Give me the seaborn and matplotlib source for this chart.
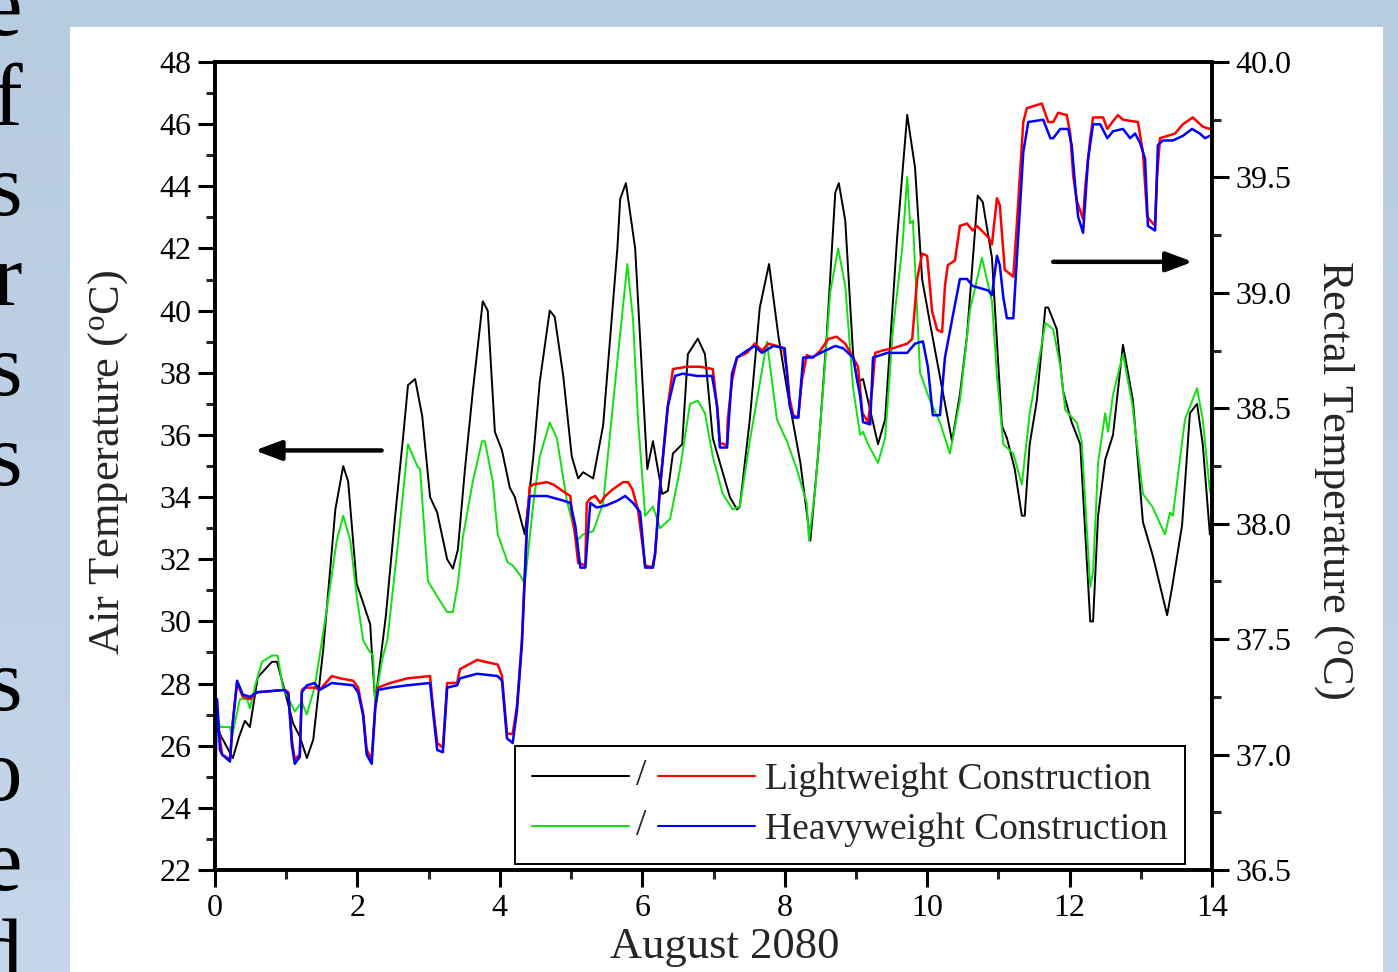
import numpy as np
import matplotlib
matplotlib.use("Agg")
import matplotlib.pyplot as plt
import seaborn as sns
from matplotlib.lines import Line2D
from matplotlib.text import Text
from matplotlib.patches import Rectangle
from matplotlib.legend_handler import HandlerBase
from matplotlib.ticker import MultipleLocator

# ---- data (days into August 2080) ----
# indoor air temperature, lightweight construction (black, left axis)
light_air_day = [0.00, 0.04, 0.25, 0.34, 0.42, 0.49, 0.60, 0.80, 0.87, 0.94, 1.10, 1.19, 1.29, 1.38,
                 1.52, 1.69, 1.80, 1.87, 1.99, 2.08, 2.18, 2.20, 2.25, 2.40, 2.53, 2.64, 2.71, 2.81,
                 2.91, 3.02, 3.12, 3.26, 3.34, 3.41, 3.51, 3.62, 3.76, 3.83, 3.93, 4.03, 4.14, 4.21,
                 4.35, 4.47, 4.56, 4.70, 4.77, 4.89, 5.01, 5.10, 5.17, 5.31, 5.45, 5.65, 5.69, 5.77,
                 5.90, 6.07, 6.15, 6.28, 6.36, 6.43, 6.56, 6.64, 6.78, 6.88, 6.99, 7.09, 7.23, 7.33,
                 7.37, 7.51, 7.65, 7.78, 7.91, 8.03, 8.22, 8.36, 8.47, 8.59, 8.71, 8.76, 8.85, 8.96,
                 9.02, 9.10, 9.20, 9.31, 9.41, 9.58, 9.72, 9.83, 9.93, 10.04, 10.21, 10.35, 10.46,
                 10.56, 10.71, 10.78, 10.91, 11.05, 11.12, 11.23, 11.33, 11.37, 11.44, 11.54, 11.66,
                 11.70, 11.82, 11.91, 12.03, 12.15, 12.29, 12.33, 12.40, 12.50, 12.61, 12.75, 12.89,
                 13.03, 13.17, 13.37, 13.44, 13.58, 13.69, 13.79, 13.87, 13.97, 14.00]
light_air_temp = [26.8, 26.5, 25.6, 26.3, 26.8, 26.6, 28.2, 28.7, 28.7, 28.1, 26.7, 26.3, 25.6, 26.2,
                  29.1, 33.6, 35.0, 34.5, 31.2, 30.6, 29.9, 29.1, 27.4, 30.2, 33.4, 35.9, 37.6, 37.8,
                  36.6, 34.0, 33.5, 32.0, 31.7, 32.3, 34.9, 37.4, 40.3, 40.0, 36.1, 35.5, 34.3, 34.0,
                  32.8, 35.3, 37.7, 40.0, 39.8, 37.9, 35.3, 34.6, 34.8, 34.6, 36.3, 42.0, 43.6, 44.1,
                  42.0, 34.9, 35.8, 34.1, 34.2, 35.4, 35.7, 38.6, 39.1, 38.6, 35.9, 35.1, 34.0, 33.6,
                  33.7, 36.5, 40.1, 41.5, 39.2, 37.5, 35.1, 32.6, 35.4, 39.2, 43.8, 44.1, 42.9, 38.6,
                  37.7, 37.8, 36.8, 35.7, 36.5, 42.4, 46.3, 44.6, 41.0, 39.6, 37.5, 35.8, 37.3,
                  39.2, 43.7, 43.5, 41.7, 36.3, 35.9, 34.9, 33.4, 33.4, 35.7, 37.1, 40.1,
                  40.1, 39.4, 37.4, 36.4, 35.7, 30.0, 30.0, 33.4, 35.2, 36.0, 38.9, 37.1,
                  33.2, 32.1, 30.2, 31.1, 33.1, 36.7, 37.0, 35.7, 32.8, 32.8]

# indoor air temperature, heavyweight construction (green, left axis)
heavy_air_day = [0.04, 0.07, 0.21, 0.24, 0.35, 0.45, 0.49, 0.56, 0.66, 0.80, 0.88, 0.95, 1.12, 1.22,
                 1.29, 1.40, 1.47, 1.57, 1.71, 1.80, 1.90, 1.99, 2.08, 2.15, 2.22, 2.25, 2.29, 2.35,
                 2.42, 2.56, 2.71, 2.84, 2.88, 2.99, 3.12, 3.26, 3.34, 3.41, 3.48, 3.62, 3.75, 3.79,
                 3.90, 3.97, 4.11, 4.18, 4.28, 4.35, 4.47, 4.56, 4.70, 4.80, 4.94, 5.08, 5.17, 5.31,
                 5.45, 5.62, 5.79, 5.87, 5.94, 6.04, 6.15, 6.25, 6.39, 6.53, 6.67, 6.78, 6.88, 6.99,
                 7.13, 7.27, 7.37, 7.51, 7.63, 7.75, 7.89, 8.03, 8.17, 8.31, 8.34, 8.43, 8.54, 8.64,
                 8.75, 8.85, 8.96, 9.06, 9.10, 9.17, 9.31, 9.41, 9.52, 9.65, 9.72, 9.76, 9.80, 9.90,
                 10.04, 10.18, 10.32, 10.46, 10.60, 10.77, 10.91, 10.98, 11.07, 11.21, 11.33, 11.44,
                 11.54, 11.66, 11.77, 11.87, 11.94, 12.10, 12.17, 12.29, 12.33, 12.40, 12.50, 12.54,
                 12.61, 12.75, 12.88, 13.03, 13.16, 13.34, 13.41, 13.45, 13.62, 13.79, 13.87, 13.97,
                 14.00]
heavy_air_temp = [26.9, 26.6, 26.6, 26.3, 27.5, 27.5, 27.2, 27.9, 28.7, 28.9, 28.9, 27.9, 27.1, 27.4,
                  27.0, 27.9, 28.9, 30.4, 32.6, 33.4, 32.6, 30.8, 29.4, 29.1, 28.9, 27.3, 28.0, 28.8,
                  29.4, 32.3, 35.7, 35.0, 34.9, 31.3, 30.8, 30.3, 30.3, 31.2, 32.7, 34.5, 35.8, 35.8,
                  34.5, 32.8, 31.9, 31.8, 31.5, 31.2, 33.8, 35.3, 36.4, 35.9, 33.9, 32.6, 32.8, 32.9,
                  33.8, 37.7, 41.5, 39.7, 36.5, 33.4, 33.7, 33.0, 33.3, 34.9, 37.0, 37.1, 36.7, 35.3,
                  34.1, 33.6, 33.7, 35.8, 37.4, 39.0, 36.5, 35.8, 34.9, 33.8, 32.6, 34.3, 37.5, 40.6,
                  42.0, 40.8, 37.5, 36.0, 36.1, 35.7, 35.1, 35.9, 39.4, 42.0, 44.3, 42.8, 42.9, 38.0,
                  37.1, 36.4, 35.4, 37.1, 40.0, 41.7, 40.3, 37.9, 35.7, 35.4, 34.4, 36.7,
                  38.0, 39.6, 39.4, 38.2, 36.8, 36.4, 35.8, 31.1, 31.6, 35.1, 36.7, 36.1,
                  37.3, 38.6, 37.0, 34.1, 33.7, 32.8, 33.5, 33.4, 36.5, 37.5, 36.5, 34.2,
                  34.0]

# rectal temperature, lightweight construction (red, right axis)
light_rectal_day = [0.00, 0.03, 0.10, 0.21, 0.25, 0.31, 0.39, 0.49, 0.59, 0.98, 1.03, 1.08, 1.12, 1.19,
                    1.22, 1.26, 1.40, 1.47, 1.64, 1.76, 1.94, 2.01, 2.08, 2.13, 2.20, 2.25, 2.29, 2.46,
                    2.70, 3.02, 3.06, 3.12, 3.20, 3.26, 3.40, 3.44, 3.68, 3.82, 3.97, 4.03, 4.10, 4.18,
                    4.24, 4.31, 4.38, 4.42, 4.47, 4.66, 4.75, 4.89, 4.99, 5.01, 5.06, 5.10, 5.20, 5.22,
                    5.27, 5.34, 5.41, 5.48, 5.59, 5.73, 5.80, 5.86, 5.94, 6.04, 6.14, 6.18, 6.25, 6.35,
                    6.43, 6.63, 6.81, 6.99, 7.02, 7.06, 7.09, 7.19, 7.20, 7.26, 7.33, 7.47, 7.58, 7.68,
                    7.77, 7.89, 7.98, 8.03, 8.07, 8.12, 8.19, 8.24, 8.31, 8.40, 8.50, 8.61, 8.73, 8.85,
                    8.96, 9.03, 9.09, 9.17, 9.23, 9.27, 9.37, 9.52, 9.62, 9.72, 9.79, 9.86, 9.93, 10.00,
                    10.07, 10.14, 10.21, 10.25, 10.29, 10.39, 10.46, 10.56, 10.64, 10.70, 10.86, 10.91,
                    10.98, 11.02, 11.09, 11.21, 11.26, 11.35, 11.40, 11.61, 11.70, 11.77, 11.84, 11.96,
                    12.01, 12.05, 12.10, 12.19, 12.22, 12.29, 12.33, 12.47, 12.53, 12.60, 12.68, 12.75,
                    12.96, 13.03, 13.09, 13.20, 13.23, 13.27, 13.48, 13.59, 13.73, 13.87, 13.97, 14.00]
light_rectal_temp = [37.10, 37.16, 37.00, 36.98, 37.14, 37.31, 37.25, 37.24, 37.27, 37.28, 37.27, 37.06,
                     36.98, 37.00, 37.28, 37.29, 37.29, 37.28, 37.34, 37.33, 37.32, 37.29, 37.18, 37.02,
                     36.98, 37.21, 37.29, 37.31, 37.33, 37.34, 37.21, 37.05, 37.03, 37.31, 37.31, 37.37,
                     37.41, 37.40, 37.39, 37.34, 37.09, 37.09, 37.21, 37.50, 38.00, 38.16, 38.17, 38.18,
                     38.17, 38.14, 38.12, 38.05, 37.94, 37.83, 37.82, 38.09, 38.11, 38.12, 38.09, 38.12,
                     38.15, 38.18, 38.18, 38.15, 38.06, 37.82, 37.81, 37.87, 38.16, 38.49, 38.67, 38.68,
                     38.68, 38.67, 38.59, 38.48, 38.35, 38.34, 38.45, 38.62, 38.72, 38.74, 38.78, 38.75,
                     38.78, 38.77, 38.76, 38.67, 38.54, 38.47, 38.46, 38.62, 38.73, 38.72, 38.75, 38.80,
                     38.81, 38.78, 38.72, 38.68, 38.48, 38.44, 38.59, 38.74, 38.75, 38.76, 38.77, 38.78,
                     38.80, 39.06, 39.17, 39.16, 38.92, 38.84, 38.83, 39.03, 39.12, 39.14, 39.29, 39.30,
                     39.27, 39.29, 39.24, 39.21, 39.41, 39.38, 39.10, 39.07, 39.30, 39.74, 39.80, 39.82,
                     39.74, 39.74, 39.78, 39.77, 39.69, 39.51, 39.40, 39.32, 39.46, 39.67, 39.76, 39.76,
                     39.71, 39.74, 39.77, 39.75, 39.74, 39.61, 39.33, 39.29, 39.51, 39.67, 39.69, 39.73,
                     39.76, 39.72, 39.71, 39.71]

# rectal temperature, heavyweight construction (blue, right axis)
heavy_rectal_day = [0.00, 0.03, 0.07, 0.10, 0.21, 0.25, 0.31, 0.39, 0.49, 0.59, 0.98, 1.03, 1.08, 1.12,
                    1.19, 1.22, 1.29, 1.40, 1.47, 1.64, 1.94, 2.01, 2.08, 2.13, 2.20, 2.25, 2.29, 2.46,
                    2.70, 3.02, 3.06, 3.12, 3.20, 3.26, 3.40, 3.44, 3.68, 3.97, 4.03, 4.10, 4.18, 4.24,
                    4.31, 4.38, 4.42, 4.66, 4.89, 4.99, 5.06, 5.13, 5.20, 5.27, 5.36, 5.50, 5.65, 5.76,
                    5.87, 5.97, 6.04, 6.15, 6.18, 6.25, 6.36, 6.46, 6.57, 6.77, 6.98, 7.05, 7.09, 7.19,
                    7.26, 7.33, 7.47, 7.58, 7.68, 7.84, 8.00, 8.07, 8.12, 8.19, 8.26, 8.38, 8.57, 8.71,
                    8.82, 8.96, 9.06, 9.10, 9.20, 9.24, 9.44, 9.58, 9.72, 9.83, 9.94, 10.01, 10.08,
                    10.18, 10.25, 10.36, 10.46, 10.56, 10.64, 10.86, 10.91, 10.98, 11.02, 11.07, 11.12,
                    11.21, 11.26, 11.35, 11.42, 11.63, 11.73, 11.77, 11.87, 11.98, 12.03, 12.08, 12.12,
                    12.19, 12.26, 12.33, 12.43, 12.53, 12.61, 12.75, 12.85, 12.92, 12.99, 13.06, 13.10,
                    13.20, 13.24, 13.31, 13.45, 13.59, 13.72, 13.83, 13.90, 13.97, 14.00]
heavy_rectal_temp = [36.82, 37.24, 37.02, 37.00, 36.97, 37.14, 37.32, 37.26, 37.25, 37.27, 37.28, 37.26,
                     37.04, 36.96, 36.99, 37.27, 37.30, 37.31, 37.28, 37.31, 37.30, 37.27, 37.17, 37.00,
                     36.96, 37.20, 37.28, 37.29, 37.30, 37.31, 37.19, 37.02, 37.01, 37.29, 37.30, 37.33,
                     37.35, 37.34, 37.32, 37.07, 37.05, 37.19, 37.48, 37.98, 38.12, 38.12, 38.10, 38.09,
                     37.99, 37.81, 37.81, 38.09, 38.07, 38.08, 38.10, 38.12, 38.09, 38.05, 37.81, 37.81,
                     37.87, 38.16, 38.51, 38.64, 38.65, 38.64, 38.64, 38.51, 38.33, 38.33, 38.65, 38.72,
                     38.75, 38.77, 38.74, 38.77, 38.76, 38.51, 38.46, 38.46, 38.72, 38.72, 38.75, 38.77,
                     38.76, 38.72, 38.55, 38.44, 38.43, 38.72, 38.74, 38.74, 38.74, 38.78, 38.79, 38.68,
                     38.47, 38.47, 38.72, 38.90, 39.06, 39.06, 39.03, 39.01, 38.99, 39.16, 39.12, 38.98,
                     38.89, 38.89, 39.15, 39.61, 39.74, 39.75, 39.67, 39.67, 39.71, 39.71, 39.64, 39.46,
                     39.33, 39.26, 39.58, 39.73, 39.73, 39.67, 39.70, 39.71, 39.67, 39.69, 39.65, 39.58,
                     39.29, 39.27, 39.64, 39.66, 39.66, 39.68, 39.71, 39.69, 39.67, 39.68, 39.68]

legend_labels = ["Lightweight Construction", "Heavyweight Construction"]
slide_letters = ["e", "f", "s", "r", "s", "s", "s", "o", "e", "d"]
slide_baselines_px = [35, 125, 215, 305, 395, 485, 710, 800, 890, 980]

# ---- style ----
sns.set_style("ticks")
plt.rcParams["font.family"] = ["Liberation Serif", "DejaVu Serif"]
plt.rcParams["mathtext.fontset"] = "custom"
plt.rcParams["mathtext.rm"] = "Liberation Serif"
plt.rcParams["mathtext.it"] = "Liberation Serif:italic"

W, H = 1398, 972
fig = plt.figure(figsize=(W / 100, H / 100), dpi=100)

# slide background (soft blue gradient) + white picture panel
bg = fig.add_axes([0, 0, 1, 1], zorder=-20)
top_c = np.array([183, 203, 225]) / 255
bot_c = np.array([197, 214, 234]) / 255
ramp = np.linspace(0, 1, 256)[:, None, None]
grad = top_c * (1 - ramp) + bot_c * ramp
bg.imshow(np.repeat(grad, 2, axis=1), aspect="auto", extent=[0, 1, 0, 1])
bg.axis("off")
fig.add_artist(Rectangle((70 / W, 0), (1383 - 70) / W, (H - 27) / H, transform=fig.transFigure,
                         facecolor="white", edgecolor="none", zorder=-15))

# clipped slide text at the left edge
for ch, yb in zip(slide_letters, slide_baselines_px):
    fig.text(22 / W, 1 - yb / H, ch, ha="right", va="baseline", fontsize=64, color="black")

ax = fig.add_axes([215 / W, (H - 870) / H, (1212 - 215) / W, (870 - 62) / H])
ax.set_facecolor("none")
ax2 = ax.twinx()

sns.lineplot(x=light_air_day, y=light_air_temp, ax=ax, color="black", linewidth=1.4,
             estimator=None, sort=False)
sns.lineplot(x=heavy_air_day, y=heavy_air_temp, ax=ax, color="#10e010", linewidth=1.4,
             estimator=None, sort=False)
sns.lineplot(x=light_rectal_day, y=light_rectal_temp, ax=ax2, color="#ff0000", linewidth=1.8,
             estimator=None, sort=False)
sns.lineplot(x=heavy_rectal_day, y=heavy_rectal_temp, ax=ax2, color="#0000ff", linewidth=1.8,
             estimator=None, sort=False)
black_line, green_line = ax.lines[0], ax.lines[1]
red_line, blue_line = ax2.lines[0], ax2.lines[1]

ax.set_xlim(0, 14)
ax.set_ylim(22, 48)
ax2.set_ylim(36.5, 40.0)
ax.xaxis.set_major_locator(MultipleLocator(2))
ax.xaxis.set_minor_locator(MultipleLocator(1))
ax.yaxis.set_major_locator(MultipleLocator(2))
ax.yaxis.set_minor_locator(MultipleLocator(1))
ax2.yaxis.set_major_locator(MultipleLocator(0.5))
ax2.yaxis.set_minor_locator(MultipleLocator(0.25))
ax2.yaxis.set_major_formatter(matplotlib.ticker.FormatStrFormatter("%.1f"))

for a in (ax, ax2):
    for sp in a.spines.values():
        sp.set_visible(True)
        sp.set_linewidth(2.6)
        sp.set_color("black")
ax.tick_params(axis="both", which="major", direction="out", length=12, width=2.2,
               labelsize=23, pad=5, colors="black", top=False, right=False)
ax.tick_params(axis="both", which="minor", direction="out", length=6.5, width=2.2,
               top=False, right=False)
ax2.tick_params(axis="y", which="major", direction="out", length=12, width=2.2,
                labelsize=23, pad=5, colors="black")
ax2.tick_params(axis="y", which="minor", direction="out", length=6.5, width=2.2)

ax.set_xlabel("August 2080", fontsize=32)
ax.xaxis.set_label_coords(0.5115, -0.07)
ax.set_ylabel(r"Air Temperature ($\mathregular{^{o}}$C)", fontsize=32)
ax.yaxis.set_label_coords(-0.085, 0.505)
ax2.set_ylabel(r"Rectal Temperature ($\mathregular{^{o}}$C)", fontsize=32, rotation=270, va="bottom")
ax2.yaxis.set_label_coords(1.1, 0.483)

# direction arrows
arrow_kw = dict(arrowstyle="-|>,head_length=0.8,head_width=0.3", color="black", lw=3.2,
                mutation_scale=20, shrinkA=0, shrinkB=0)
ax.annotate("", xy=(0.56, 35.5), xytext=(2.34, 35.5), arrowprops=arrow_kw)
ax.annotate("", xy=(13.73, 41.57), xytext=(11.77, 41.57), arrowprops=arrow_kw)


class SlashPairHandler(HandlerBase):
    def create_artists(self, legend, orig_handle, xdescent, ydescent, width, height, fontsize, trans):
        first, second = orig_handle
        y = 0.5 * height - ydescent
        x0 = -xdescent
        seg = 0.435 * width
        a = Line2D([x0, x0 + seg], [y, y], color=first.get_color(), lw=1.5, transform=trans)
        s = Text(x0 + 0.49 * width, y, "/", ha="center", va="center", fontsize=fontsize,
                 family="Liberation Serif", transform=trans)
        b = Line2D([x0 + width - seg, x0 + width], [y, y], color=second.get_color(), lw=1.5,
                   transform=trans)
        return [a, s, b]


leg = ax2.legend(handles=[(black_line, red_line), (green_line, blue_line)], labels=legend_labels,
                 handler_map={tuple: SlashPairHandler()}, loc="upper left",
                 bbox_to_anchor=(0.301, 0.1535), borderaxespad=0, fontsize=27,
                 handlelength=5.95, handletextpad=0.27, borderpad=0.45, labelspacing=0.4,
                 frameon=True, fancybox=False, edgecolor="black", framealpha=1)
leg.get_frame().set_linewidth(1.4)

fig.savefig("out.png", dpi=100, facecolor=fig.get_facecolor())
